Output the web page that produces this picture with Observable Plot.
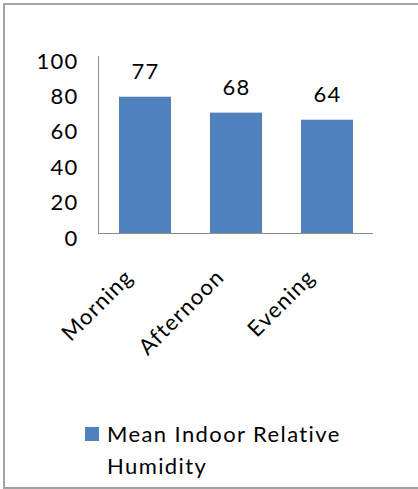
<!DOCTYPE html>
<html>
<head>
<meta charset="utf-8">
<script src="https://cdn.jsdelivr.net/npm/d3@7"></script>
<script src="https://cdn.jsdelivr.net/npm/@observablehq/plot@0.6"></script>
<style>
  html, body { margin: 0; padding: 0; background: #fff; }
  body { width: 418px; height: 489px; position: relative; overflow: hidden; font-family: Lato, "Open Sans", sans-serif; }
  #border { position: absolute; left: 3px; top: 3px; width: 430px; height: 486px; box-sizing: border-box; border: 2px solid #a3a3a3; }
  #chart { position: absolute; left: 0; top: 0; }
  #legend { position: absolute; left: 85px; top: 418px; display: flex; align-items: flex-start; }
  #legend .sw { width: 14px; height: 14px; margin-top: 9px; background: #4f81bd; flex: none; }
  #legend .lb { margin-left: 8px; width: 270px; font-size: 22px; line-height: 32px; color: #000; letter-spacing: 1.4px; }
</style>
</head>
<body>
<div id="border"></div>
<div id="chart"></div>
<div id="legend"></div>
<script>
const categories = ["Morning", "Afternoon", "Evening"];
const values = [77, 68, 64];
const yTicks = [0, 20, 40, 60, 80, 100];
const seriesName = "Mean Indoor Relative Humidity";
const barColor = "#4f81bd";

const data = categories.map((c, i) => ({category: c, value: values[i]}));

const plot = Plot.plot({
  width: 418,
  height: 400,
  marginLeft: 98,
  marginRight: 45,
  marginTop: 56,
  marginBottom: 167,
  style: {fontFamily: "Lato, 'Open Sans', sans-serif", background: "transparent", color: "#000", letterSpacing: "1.2px"},
  x: {domain: categories, paddingInner: 0.43, paddingOuter: 0.215, label: null},
  y: {domain: [0, 100], label: null},
  marks: [
    Plot.barY(data, {x: "category", y: "value", fill: barColor}),
    Plot.frame({anchor: "left", stroke: "#8c8c8c"}),
    Plot.ruleY([0], {stroke: "#8c8c8c"}),
    Plot.axisY({ticks: yTicks, tickSize: 0, tickPadding: 20, dy: 5, fontSize: 22, label: null}),
    Plot.axisX({tickSize: 0, tickRotate: -45, tickPadding: 40, dx: -16, fontSize: 22, label: null}),
    Plot.text(data, {x: "category", y: "value", text: d => String(d.value), dy: -25, fontSize: 22, fill: "#000"})
  ]
});
document.getElementById("chart").appendChild(plot);

const legend = document.getElementById("legend");
const sw = document.createElement("div"); sw.className = "sw";
const lb = document.createElement("div"); lb.className = "lb"; lb.textContent = seriesName;
legend.appendChild(sw); legend.appendChild(lb);
</script>
</body>
</html>
